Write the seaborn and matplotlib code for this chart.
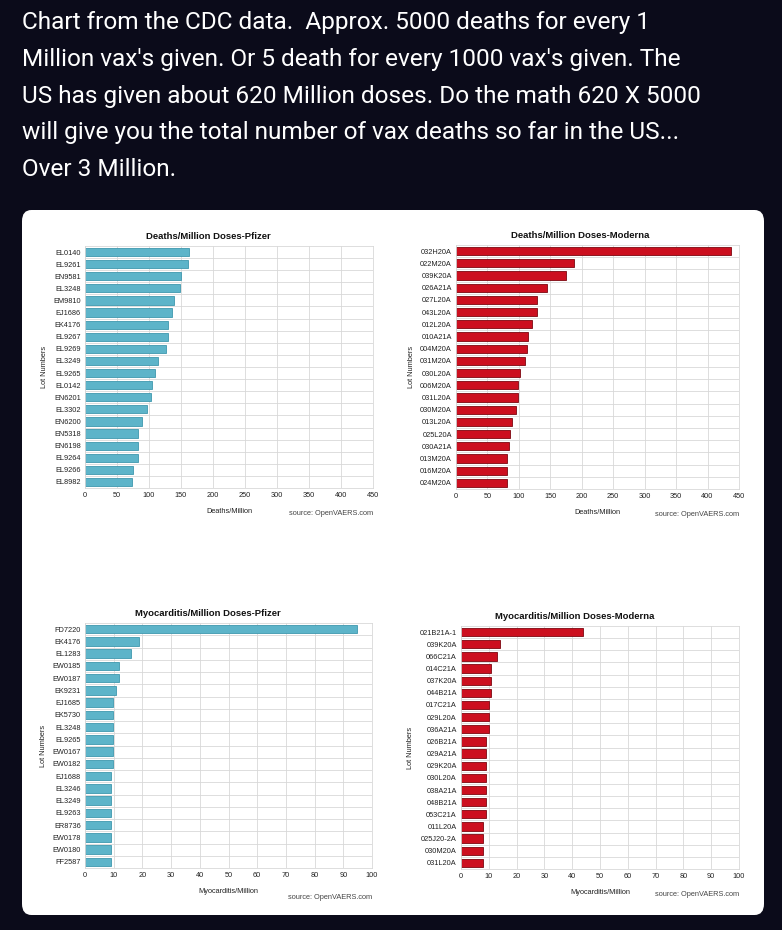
import matplotlib
matplotlib.use("Agg")
import matplotlib.pyplot as plt
import pandas as pd
import seaborn as sns
from matplotlib.patches import FancyBboxPatch

# header text
header_lines = [
    "Chart from the CDC data.  Approx. 5000 deaths for every 1",
    "Million vax's given. Or 5 death for every 1000 vax's given. The",
    "US has given about 620 Million doses. Do the math 620 X 5000",
    "will give you the total number of vax deaths so far in the US...",
    "Over 3 Million.",
]

# Deaths/Million - Pfizer
pfizer_death_lots = ["EL0140", "EL9261", "EN9581", "EL3248", "EM9810", "EJ1686", "EK4176",
                     "EL9267", "EL9269", "EL3249", "EL9265", "EL0142", "EN6201", "EL3302",
                     "EN6200", "EN5318", "EN6198", "EL9264", "EL9266", "EL8982"]
pfizer_death_vals = [162.5, 161.5, 150.5, 149, 139.5, 135.5, 130, 129, 126.5, 114.5,
                     110, 105, 103.5, 96.5, 88.5, 83.5, 83.5, 82.5, 75.5, 74]

# Deaths/Million - Moderna
moderna_death_lots = ["032H20A", "022M20A", "039K20A", "026A21A", "027L20A", "043L20A",
                      "012L20A", "010A21A", "004M20A", "031M20A", "030L20A", "006M20A",
                      "031L20A", "030M20A", "013L20A", "025L20A", "030A21A", "013M20A",
                      "016M20A", "024M20A"]
moderna_death_vals = [438, 187.5, 175, 144.5, 128.5, 128.5, 121, 114, 112.5, 110.5,
                      101, 98, 98, 95, 89.5, 85.5, 84.5, 81, 80.5, 80.5]

# Myocarditis/Million - Pfizer
pfizer_myo_lots = ["FD7220", "EK4176", "EL1283", "EW0185", "EW0187", "EK9231", "EJ1685",
                   "EK5730", "EL3248", "EL9265", "EW0167", "EW0182", "EJ1688", "EL3246",
                   "EL3249", "EL9263", "ER8736", "EW0178", "EW0180", "FF2587"]
pfizer_myo_vals = [94.8, 18.8, 15.9, 11.8, 11.8, 10.9, 9.9, 9.9, 9.9, 9.9, 9.9, 9.9,
                   8.9, 8.9, 8.9, 8.9, 8.9, 8.9, 8.9, 8.9]

# Myocarditis/Million - Moderna
moderna_myo_lots = ["021B21A-1", "039K20A", "066C21A", "014C21A", "037K20A", "044B21A",
                    "017C21A", "029L20A", "036A21A", "026B21A", "029A21A", "029K20A",
                    "030L20A", "038A21A", "048B21A", "053C21A", "011L20A", "025J20-2A",
                    "030M20A", "031L20A"]
moderna_myo_vals = [43.9, 13.9, 12.9, 10.9, 10.9, 10.9, 10, 10, 10, 8.9, 8.9, 8.9,
                    8.9, 8.9, 8.9, 8.9, 7.9, 7.9, 7.9, 7.9]

W, H = 782, 930
BG = "#0b0b1a"
TEAL = "#5db4c9"
TEAL_EDGE = "#3f98ae"
RED = "#cc0f1f"
RED_EDGE = "#7c0710"

sns.set_theme(style="whitegrid")
plt.rcParams["font.family"] = ["Liberation Sans", "DejaVu Sans"]

fig = plt.figure(figsize=(W / 100, H / 100), dpi=100, facecolor=BG)

for i, line in enumerate(header_lines):
    fig.text(22 / W, 1 - (23 + 36.5 * i) / H, line, color="white", fontsize=17.6,
             family=["Roboto", "DejaVu Sans"], va="center", ha="left")

# white card, behind the axes
card = FancyBboxPatch((22 / W, 15 / H), 742 / W, 705 / H,
                      boxstyle="round,pad=0,rounding_size=0.012",
                      transform=fig.transFigure, facecolor="white", edgecolor="none",
                      zorder=-10)
fig.patches.append(card)


def panel(box, lots, vals, color, edge, xmax, step, title, xlabel, title_x, src_y):
    x0, y0, x1, y1 = box  # pixels, top-left origin
    ax = fig.add_axes([x0 / W, 1 - y1 / H, (x1 - x0) / W, (y1 - y0) / H])
    df = pd.DataFrame({"lot": lots, "val": vals})
    sns.barplot(data=df, x="val", y="lot", orient="h", color=color, ax=ax,
                width=0.68, edgecolor=edge, linewidth=0.6, saturation=1)
    ax.set_xlim(0, xmax)
    ax.set_xticks(range(0, xmax + 1, step))
    ax.set_ylim(len(lots) - 0.5, -0.5)
    ax.set_yticks([i + 0.5 for i in range(len(lots) - 1)], minor=True)
    ax.grid(False)
    ax.grid(True, axis="x", color="#d8d8d8", linewidth=0.6)
    ax.grid(True, axis="y", which="minor", color="#d8d8d8", linewidth=0.6)
    ax.set_axisbelow(True)
    for s in ax.spines.values():
        s.set_color("#d8d8d8")
        s.set_linewidth(0.6)
    ax.tick_params(axis="both", which="both", length=0, labelsize=5.3, colors="#222222", pad=3)
    ax.set_title(title, fontsize=6.8, fontweight="bold", pad=5, color="#111111", x=title_x)
    ax.set_xlabel(xlabel, fontsize=5.3, color="#222222", labelpad=6)
    ax.set_ylabel("Lot Numbers", fontsize=5.3, color="#222222", labelpad=4)
    ax.text(1.0, src_y, "source: OpenVAERS.com", transform=ax.transAxes, ha="right",
            va="top", fontsize=5.3, color="#444444")
    return ax


panel((85, 246, 373, 488), pfizer_death_lots, pfizer_death_vals, TEAL, TEAL_EDGE,
      450, 50, "Deaths/Million Doses-Pfizer", "Deaths/Million", 0.427, -0.09)
panel((456, 245, 739, 489), moderna_death_lots, moderna_death_vals, RED, RED_EDGE,
      450, 50, "Deaths/Million Doses-Moderna", "Deaths/Million", 0.438, -0.09)
panel((85, 623, 372, 868), pfizer_myo_lots, pfizer_myo_vals, TEAL, TEAL_EDGE,
      100, 10, "Myocarditis/Million Doses-Pfizer", "Myocarditis/Million", 0.429, -0.105)
panel((461, 626, 739, 869), moderna_myo_lots, moderna_myo_vals, RED, RED_EDGE,
      100, 10, "Myocarditis/Million Doses-Moderna", "Myocarditis/Million", 0.41, -0.09)

fig.savefig("out.png", dpi=100, facecolor=BG)
